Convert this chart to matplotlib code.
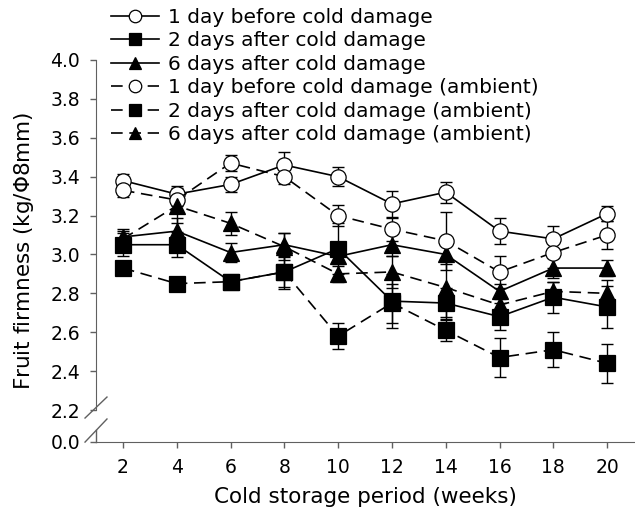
import numpy as np
import matplotlib
matplotlib.use("Agg")
import matplotlib.pyplot as plt

plt.rcParams['font.family'] = ['DejaVu Sans']

weeks = [2, 4, 6, 8, 10, 12, 14, 16, 18, 20]

labels = [
    "1 day before cold damage",
    "2 days after cold damage",
    "6 days after cold damage",
    "1 day before cold damage (ambient)",
    "2 days after cold damage (ambient)",
    "6 days after cold damage (ambient)",
]

before1 = [3.38, 3.31, 3.36, 3.46, 3.40, 3.26, 3.32, 3.12, 3.08, 3.21]
before1_err = [0.035, 0.04, 0.04, 0.065, 0.05, 0.065, 0.055, 0.065, 0.065, 0.04]
after2 = [3.05, 3.05, 2.86, 2.91, 3.03, 2.76, 2.75, 2.68, 2.78, 2.73]
after2_err = [0.06, 0.065, 0.03, 0.09, 0.13, 0.14, 0.08, 0.07, 0.08, 0.11]
after6 = [3.09, 3.12, 3.01, 3.05, 2.99, 3.05, 3.00, 2.81, 2.93, 2.93]
after6_err = [0.04, 0.07, 0.05, 0.06, 0.04, 0.06, 0.05, 0.04, 0.05, 0.04]
before1_amb = [3.33, 3.28, 3.47, 3.40, 3.20, 3.13, 3.07, 2.91, 3.01, 3.10]
before1_amb_err = [0.035, 0.03, 0.04, 0.04, 0.055, 0.06, 0.15, 0.08, 0.08, 0.07]
after2_amb = [2.93, 2.85, 2.86, 2.91, 2.58, 2.75, 2.61, 2.47, 2.51, 2.44]
after2_amb_err = [0.03, 0.035, 0.03, 0.075, 0.065, 0.10, 0.055, 0.10, 0.09, 0.10]
after6_amb = [3.08, 3.25, 3.16, 3.04, 2.90, 2.91, 2.83, 2.74, 2.81, 2.80]
after6_amb_err = [0.04, 0.09, 0.06, 0.07, 0.04, 0.08, 0.15, 0.04, 0.05, 0.07]

series = [
    (before1, before1_err, 'o', 'white', '-'),
    (after2, after2_err, 's', 'black', '-'),
    (after6, after6_err, '^', 'black', '-'),
    (before1_amb, before1_amb_err, 'o', 'white', (0, (7, 4))),
    (after2_amb, after2_amb_err, 's', 'black', (0, (7, 4))),
    (after6_amb, after6_amb_err, '^', 'black', (0, (7, 4))),
]

yticks = [0.0, 2.2, 2.4, 2.6, 2.8, 3.0, 3.2, 3.4, 3.6, 3.8, 4.0]
xticks = weeks

# broken axis: compress 0..2.2 into a short segment
BRK = 2.2
K = 0.163 / 2.2


def fwd(v):
    v = np.asarray(v, dtype=float)
    return np.where(v >= BRK, v, BRK - (BRK - v) * K)


def inv(u):
    u = np.asarray(u, dtype=float)
    return np.where(u >= BRK, u, BRK - (BRK - u) / K)


W, H = 635, 517
fig = plt.figure(figsize=(W / 100, H / 100), dpi=100)
ax = fig.add_axes([96 / W, (H - 441.7) / H, 538 / W, 381.7 / H])
ax.set_yscale('function', functions=(fwd, inv))

for vals, errs, mk, fc, ls in series:
    ax.errorbar(weeks, vals, yerr=errs, fmt='none', ecolor='black',
                elinewidth=1.0, capsize=4, capthick=1.0, zorder=2)

for (vals, errs, mk, fc, ls), lab in zip(series, labels):
    ax.plot(weeks, vals, linestyle=ls, color='black', lw=1.2,
            marker=mk, markersize=11 if mk != '^' else 11.5,
            markerfacecolor=fc, markeredgecolor='black',
            markeredgewidth=0.9, label=lab, zorder=3)

ax.set_xlim(1.0, 21.0)
ax.set_ylim(0.0, 4.0)
ax.set_yticks(yticks)
ax.set_yticklabels([f"{t:.1f}" for t in yticks])
ax.set_xticks(xticks)
ax.set_xticklabels([str(t) for t in xticks])

gray = '#606060'
for s in ['top', 'right']:
    ax.spines[s].set_visible(False)
ax.spines['left'].set_bounds(2.2, 4.0)
ax.spines['left'].set_color(gray)
ax.spines['bottom'].set_color(gray)
ax.tick_params(axis='both', direction='out', length=4, width=1,
               color=gray, labelsize=13.5)
ax.tick_params(axis='y', pad=7.5)
ax.tick_params(axis='x', pad=8)

# lower stub of left spine and break marks
ax.plot([0, 0], [0, 0.0307], transform=ax.transAxes, color=gray,
        lw=1, clip_on=False)
ax.plot([-0.0204, 0.0204], [0.062, 0.117], transform=ax.transAxes,
        color=gray, lw=1, clip_on=False)
ax.plot([-0.0204, 0.0204], [-0.001, 0.0595], transform=ax.transAxes,
        color=gray, lw=1, clip_on=False)

ax.set_xlabel("Cold storage period (weeks)", fontsize=15.5, labelpad=7)
ax.set_ylabel("Fruit firmness (kg/$\\mathit{\\Phi}$8mm)", fontsize=15.5, labelpad=10)

handles, labs = ax.get_legend_handles_labels()
leg = fig.legend(handles, labs, loc='upper left',
                 bbox_to_anchor=(111 / W, 1 - 8 / H), frameon=False,
                 fontsize=14.5, handlelength=2.4, handletextpad=0.42,
                 labelspacing=0.22, borderpad=0, borderaxespad=0)
for h in leg.legend_handles:
    h.set_markersize(9)

fig.savefig("out.png", dpi=100)
